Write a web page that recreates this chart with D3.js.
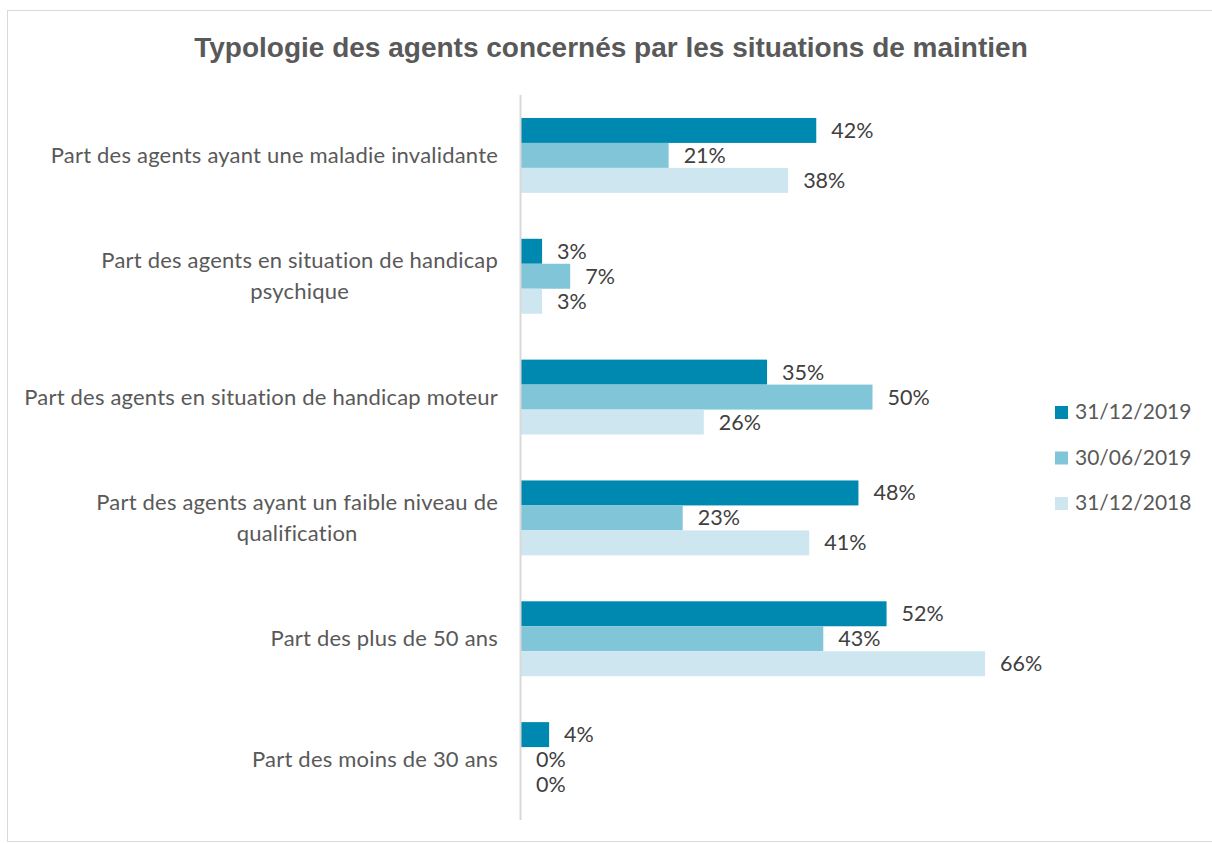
<!DOCTYPE html>
<html>
<head>
<meta charset="utf-8">
<script src="https://cdn.jsdelivr.net/npm/d3@7"></script>
<style>
  body { margin: 0; background: #fff; }
  text { font-family: Lato, "Open Sans", sans-serif; }
</style>
</head>
<body>
<div id="container"></div>
<script>
const categories = [
    ['Part des agents ayant une maladie invalidante'],
    ['Part des agents en situation de handicap', 'psychique'],
    ['Part des agents en situation de handicap moteur'],
    ['Part des agents ayant un faible niveau de', 'qualification'],
    ['Part des plus de 50 ans'],
    ['Part des moins de 30 ans']
];
const seriesNames = ['31/12/2019', '30/06/2019', '31/12/2018'];
const s2019dec = [0.42, 0.03, 0.35, 0.48, 0.52, 0.04];
const s2019jun = [0.21, 0.07, 0.50, 0.23, 0.43, 0.00];
const s2018dec = [0.38, 0.03, 0.26, 0.41, 0.66, 0.00];
const seriesValues = [s2019dec, s2019jun, s2018dec];
const colors = ['#0089B0', '#80C5D8', '#CDE6EF'];

const W = 1212, H = 843;
const svg = d3.select('#container')
    .append('svg')
    .attr('width', W)
    .attr('height', H);

svg.append('rect')
    .attr('x', 7.5).attr('y', 10.5)
    .attr('width', W).attr('height', H - 12)
    .attr('fill', '#fff')
    .attr('stroke', '#d9d9d9');

svg.append('text')
    .attr('x', 611).attr('y', 57)
    .attr('text-anchor', 'middle')
    .style('font-family', '"Liberation Sans", Arial, sans-serif')
    .attr('font-weight', 'bold')
    .attr('font-size', 28)
    .attr('fill', '#595959')
    .text('Typologie des agents concernés par les situations de maintien');

const x = d3.scaleLinear()
    .domain([0, 0.7])
    .range([521, 521 + 0.7 * 703]);

const y = d3.scaleBand()
    .domain(d3.range(categories.length))
    .range([95, 820])
    .paddingInner(0.38)
    .paddingOuter(0.19);

const ySub = d3.scaleBand()
    .domain(d3.range(seriesNames.length))
    .range([0, y.bandwidth()]);

const rows = [];
seriesValues.forEach((vals, s) => {
    vals.forEach((v, i) => rows.push({ s, i, v }));
});

svg.append('g')
    .selectAll('rect')
    .data(rows)
    .join('rect')
    .attr('x', x(0))
    .attr('y', d => y(d.i) + ySub(d.s))
    .attr('width', d => x(d.v) - x(0))
    .attr('height', ySub.bandwidth())
    .attr('fill', d => colors[d.s]);

svg.append('g')
    .selectAll('text')
    .data(rows)
    .join('text')
    .attr('x', d => x(d.v) + 15)
    .attr('y', d => y(d.i) + ySub(d.s) + ySub.bandwidth() / 2)
    .attr('dy', '0.35em')
    .attr('font-size', 21.5)
    .attr('fill', '#404040')
    .text(d => Math.round(d.v * 100) + '%');

// axis line
svg.append('line')
    .attr('x1', 520.5).attr('x2', 520.5)
    .attr('y1', 95).attr('y2', 820)
    .attr('stroke', '#d9d9d9')
    .attr('stroke-width', 2);

// category labels
const labelRight = 498;
const lineH = 31;
categories.forEach((lines, i) => {
    const cy = y(i) + y.bandwidth() / 2;
    const g = svg.append('g');
    const texts = lines.map((ln, k) => g.append('text')
        .attr('y', cy + (k - (lines.length - 1) / 2) * lineH)
        .attr('dy', '0.35em')
        .attr('font-size', 22)
        .attr('letter-spacing', 0.2)
        .attr('fill', '#595959')
        .text(ln));
    const maxW = d3.max(texts, t => t.node().getComputedTextLength());
    texts.forEach(t => t.attr('x', labelRight - maxW / 2).attr('text-anchor', 'middle'));
});

// legend
const legend = svg.append('g')
    .selectAll('g')
    .data(seriesNames)
    .join('g')
    .attr('transform', (d, i) => `translate(1055, ${412 + i * 45.5})`);

legend.append('rect')
    .attr('x', 0).attr('y', -6)
    .attr('width', 13).attr('height', 13)
    .attr('fill', (d, i) => colors[i]);

legend.append('text')
    .attr('x', 20)
    .attr('dy', '0.35em')
    .attr('font-size', 21)
    .attr('fill', '#595959')
    .text(d => d);
</script>
</body>
</html>
